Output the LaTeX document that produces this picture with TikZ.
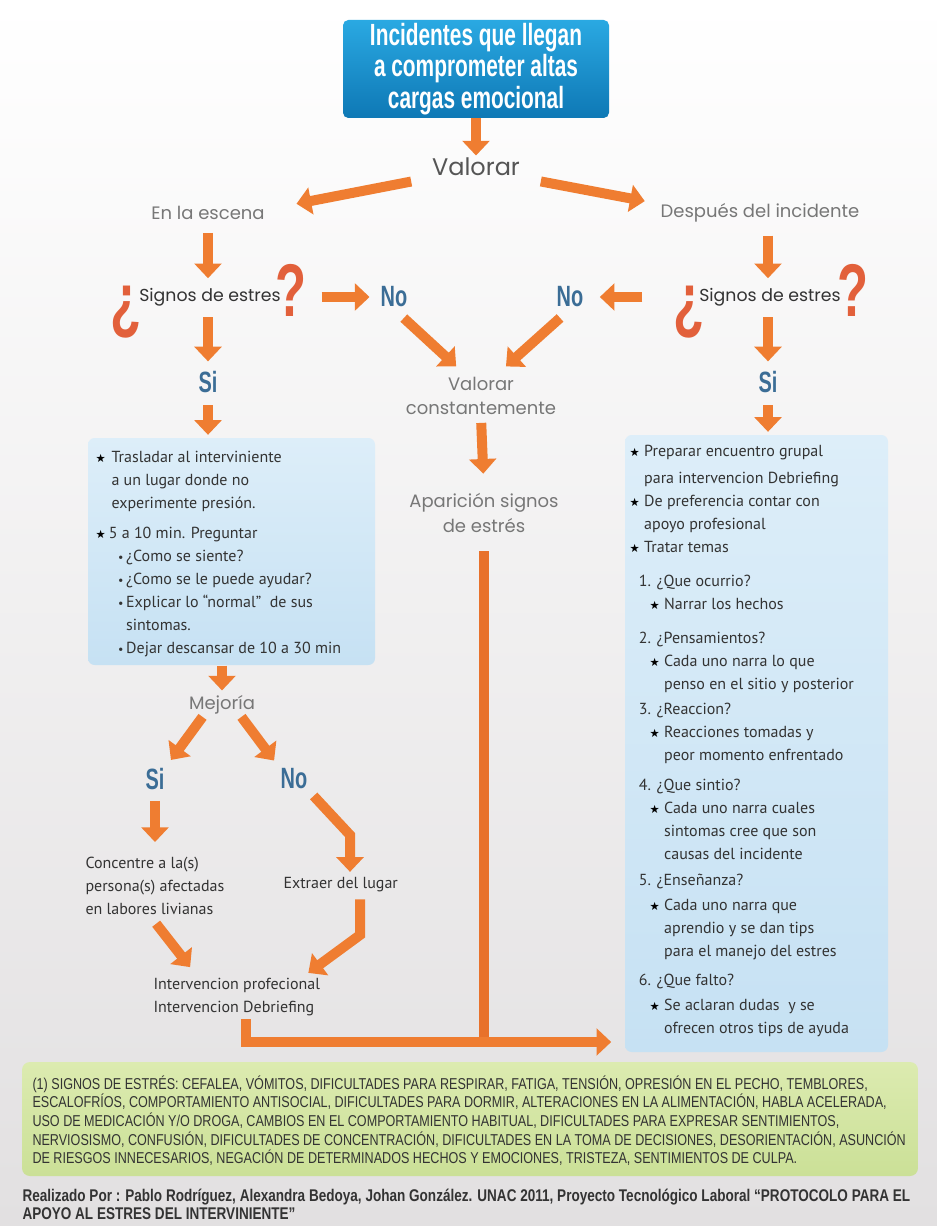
\documentclass[tikz,border=0pt]{standalone}
\usepackage{fontspec}
\setmainfont{PT Sans}
\newfontfamily\titlefont[FakeStretch=0.68]{Liberation Sans}
\newfontfamily\notafont[FakeStretch=0.8]{Liberation Sans}
\newfontfamily\grisfont{Poppins}
\newfontfamily\symfont{DejaVu Sans}
\usetikzlibrary{arrows.meta,positioning,calc}

\definecolor{naranja}{HTML}{EF7D31}
\definecolor{naranjaosc}{HTML}{E8712B}
\definecolor{azulsi}{HTML}{3B6D96}
\definecolor{azultop}{HTML}{2AA9E2}
\definecolor{azulbot}{HTML}{0E78B5}
\definecolor{celeste1}{HTML}{DDEEF9}
\definecolor{celeste2}{HTML}{C6E1F3}
\definecolor{verde1}{HTML}{DCEBB0}
\definecolor{verde2}{HTML}{CBE097}
\definecolor{grisclaro}{HTML}{777777}
\definecolor{grisvalorar}{HTML}{555555}
\definecolor{grisosc}{HTML}{333333}
\definecolor{rojizo}{HTML}{E2603B}
\definecolor{fondo}{HTML}{E2E0E1}

\newcommand{\est}[1]{\makebox[#1][l]{\symfont\fontsize{8.5}{8.5}\selectfont\color{black}★}}
\newcommand{\punto}{\makebox[6pt][l]{\fontsize{9}{9}\selectfont •}}

\tikzset{every picture/.style={line width=0.75pt}}
\tikzset{
  flecha/.style={draw=naranja, line width=7.5pt, -{Triangle[width=20pt,length=11pt]}},
  barra/.style={draw=naranjaosc, line width=7.5pt},
  gris/.style={inner sep=1.5pt, text=grisclaro, align=center, font=\grisfont\fontsize{13.5}{18.5}\selectfont},
  signos/.style={inner sep=1pt, text=grisosc, font=\grisfont\fontsize{13}{16}\selectfont},
  sino/.style={inner sep=1pt, text=azulsi, font=\titlefont\bfseries\fontsize{22}{24}\selectfont},
  pregunta/.style={inner sep=0pt, text=rojizo, font=\titlefont\bfseries\fontsize{56}{56}\selectfont},
  cajatitulo/.style={rounded corners=4pt, top color=azultop, bottom color=azulbot, inner sep=0pt, text=white, align=center, font=\titlefont\bfseries\fontsize{23}{23.5}\selectfont},
  cajaazul/.style={rounded corners=5pt, top color=celeste1, bottom color=celeste2, inner sep=0pt},
  cajaverde/.style={rounded corners=6pt, top color=verde1, bottom color=verde2, inner sep=0pt},
  cuerpo/.style={anchor=north west, inner sep=0pt, align=left, text=grisosc, font=\fontsize{12}{17.25}\selectfont}
}

\begin{document}
\begin{tikzpicture}[x=0.75pt,y=0.75pt,yscale=-1,xscale=1]
%set diagram: 937 x 1226
\shade [top color=white, bottom color=fondo] (0,0) rectangle (937,1226);
\useasboundingbox (0,0) rectangle (937,1226);

%Shape: Rectangle
\draw (476,69) node (titulo) [cajatitulo, minimum width=199.5pt, minimum height=73.5pt] {Incidentes que llegan\\a comprometer altas\\cargas emocional};
%Shape: Rectangle
\draw (231.5,551.5) node (cajaI) [cajaazul, minimum width=215.25pt, minimum height=170.25pt] {};
%Shape: Rectangle
\draw (756.5,743.5) node (cajaD) [cajaazul, minimum width=197.25pt, minimum height=462.75pt] {};
%Shape: Rectangle
\draw (470,1119) node (cajaV) [cajaverde, minimum width=672pt, minimum height=85.5pt] {};

% Text Node
\draw (126,312) node (abreI) [pregunta] {¿};
\draw (291,290) node (cierraI) [pregunta] {?};
\draw (689,312) node (abreD) [pregunta] {¿};
\draw (853,290) node (cierraD) [pregunta] {?};
% Text Node
\draw (476,167) node (valorar) [gris, text=grisvalorar, font=\grisfont\fontsize{18}{20}\selectfont] {Valorar};
\draw (208,213) node (escena) [gris] {En la escena};
\draw (760,213) node (despues) [gris] {Después del incidente};
\draw (210,297) node (signosI) [signos] {Signos de estres};
\draw (770,297) node (signosD) [signos] {Signos de estres};
\draw (394,297) node (noI) [sino] {No};
\draw (570,297) node (noD) [sino] {No};
\draw (208,382) node (siI) [sino] {Si};
\draw (768,382) node (siD) [sino] {Si};
\draw (481,396) node (constante) [gris] {Valorar\\constantemente};
\draw (484,513) node (aparicion) [gris] {Aparición signos\\de estrés};
\draw (222,705) node (mejoria) [gris] {Mejoría};
\draw (155,779) node (siM) [sino] {Si};
\draw (294,779) node (noM) [sino] {No};
% Text Node
\draw (85,886) node (concentre) [cuerpo, anchor=west] {Concentre a la(s)\\persona(s) afectadas\\en labores livianas};
\draw (283,885) node (extraer) [cuerpo, anchor=west] {Extraer del lugar};
\draw (153,997) node (interv) [cuerpo, anchor=west] {Intervencion profecional\\Intervencion Debriefing};

% Text Node
\draw (95,451) node (listaI) [cuerpo] {\est{12pt}Trasladar al interviniente\\
\hspace*{12pt}a un lugar donde no\\
\hspace*{12pt}experimente presión.\\[5pt]
\est{10pt}5 a 10 min. Preguntar\\
\hspace*{17pt}\punto¿Como se siente?\\
\hspace*{17pt}\punto¿Como se le puede ayudar?\\
\hspace*{17pt}\punto Explicar lo “normal”\ \ de sus\\
\hspace*{23pt}sintomas.\\
\hspace*{17pt}\punto Dejar descansar de 10 a 30 min};
% Text Node
\draw (629,445) node (listaD) [cuerpo] {\est{11pt}Preparar encuentro grupal\\[3pt]
\hspace*{11pt}para intervencion Debriefing\\
\est{11pt}De preferencia contar con\\
\hspace*{11pt}apoyo profesional\\
\est{11pt}Tratar temas\\[8pt]
\hspace*{7pt}1. ¿Que ocurrio?\\
\hspace*{15pt}\est{11pt}Narrar los hechos\\[8pt]
\hspace*{7pt}2. ¿Pensamientos?\\
\hspace*{15pt}\est{11pt}Cada uno narra lo que\\
\hspace*{26pt}penso en el sitio y posterior\\[2pt]
\hspace*{7pt}3. ¿Reaccion?\\
\hspace*{15pt}\est{11pt}Reacciones tomadas y\\
\hspace*{26pt}peor momento enfrentado\\[5pt]
\hspace*{7pt}4. ¿Que sintio?\\
\hspace*{15pt}\est{11pt}Cada uno narra cuales\\
\hspace*{26pt}sintomas cree que son\\
\hspace*{26pt}causas del incidente\\[2pt]
\hspace*{7pt}5. ¿Enseñanza?\\[2pt]
\hspace*{15pt}\est{11pt}Cada uno narra que\\
\hspace*{26pt}aprendio y se dan tips\\
\hspace*{26pt}para el manejo del estres\\[4pt]
\hspace*{7pt}6. ¿Que falto?\\[2pt]
\hspace*{15pt}\est{11pt}Se aclaran dudas\ \ y se\\
\hspace*{26pt}ofrecen otros tips de ayuda};
% Text Node
\draw (32,1075) node (listaSignos) [anchor=north west, inner sep=0pt, align=left, text=grisosc, font=\notafont\fontsize{11.8}{14}\selectfont] {(1) SIGNOS DE ESTRÉS: CEFALEA, VÓMITOS, DIFICULTADES PARA RESPIRAR, FATIGA, TENSIÓN, OPRESIÓN EN EL PECHO, TEMBLORES,\\
ESCALOFRÍOS, COMPORTAMIENTO ANTISOCIAL, DIFICULTADES PARA DORMIR, ALTERACIONES EN LA ALIMENTACIÓN, HABLA ACELERADA,\\
USO DE MEDICACIÓN Y/O DROGA, CAMBIOS EN EL COMPORTAMIENTO HABITUAL, DIFICULTADES PARA EXPRESAR SENTIMIENTOS,\\
NERVIOSISMO, CONFUSIÓN, DIFICULTADES DE CONCENTRACIÓN, DIFICULTADES EN LA TOMA DE DECISIONES, DESORIENTACIÓN, ASUNCIÓN\\
DE RIESGOS INNECESARIOS, NEGACIÓN DE DETERMINADOS HECHOS Y EMOCIONES, TRISTEZA, SENTIMIENTOS DE CULPA.};
% Text Node
\draw (22,1189) node (pie) [anchor=north west, inner sep=0pt, align=left, text=grisosc, font=\notafont\bfseries\fontsize{12.7}{13.5}\selectfont] {Realizado Por : Pablo Rodríguez, Alexandra Bedoya, Johan González. UNAC 2011, Proyecto Tecnológico Laboral “PROTOCOLO PARA EL\\
APOYO AL ESTRES DEL INTERVINIENTE”};

%Straight Lines
\draw [flecha] (titulo.south) -- (valorar.north);
\draw [flecha, shorten <=12pt] ([xshift=-2pt]valorar.south west) -- ([xshift=22pt]escena.north east);
\draw [flecha, shorten <=12pt] ([xshift=2pt]valorar.south east) -- ([xshift=-10pt]despues.north west);
\draw [flecha, shorten <=8pt, shorten >=6pt] (siI.north |- escena.south) -- (siI.north |- signosI.north);
\draw [flecha, shorten <=8pt, shorten >=6pt] (siD.north |- despues.south) -- (siD.north |- signosD.north);
\draw [flecha, shorten <=11pt, shorten >=7pt] (cierraI.east |- signosI) -- (noI.west);
\draw [flecha, shorten <=23pt, shorten >=11pt] (abreD.west |- signosD) -- (noD.east);
\draw [flecha, shorten <=10pt, shorten >=9pt] (noI.south) -- ([xshift=-12pt]constante.north);
\draw [flecha, shorten <=10pt, shorten >=9pt] (noD.south) -- ([xshift=12pt]constante.north);
\draw [flecha, shorten <=4pt, shorten >=13pt] (constante.south) -- (aparicion.north);
\draw [flecha, shorten <=7pt, shorten >=6pt] (siI.north |- signosI.south) -- (siI.north);
\draw [flecha, shorten <=7pt, shorten >=6pt] (siD.north |- signosD.south) -- (siD.north);
\draw [flecha, shorten <=8pt, shorten >=2pt] (siI.south) -- (siI.south |- cajaI.north);
\draw [flecha, shorten <=8pt, shorten >=2pt] (siD.south) -- (siD.south |- cajaD.north);
\draw [flecha, shorten >=2pt] (mejoria.north |- cajaI.south) -- (mejoria.north);
\draw [flecha, shorten >=6pt] ([xshift=12pt]mejoria.south west) -- (siM.north east);
\draw [flecha, shorten >=6pt] ([xshift=-12pt]mejoria.south east) -- (noM.north west);
\draw [flecha, shorten <=7pt, shorten >=11pt] (siM.south) -- (siM.south |- concentre.north);
\coordinate (codoA) at (350,835);
\draw [flecha, shorten <=5pt, shorten >=4pt] (noM.south east) -- (codoA) -- (codoA |- extraer.north);
\coordinate (codoB) at (360,935);
\draw [flecha, shorten <=5pt, shorten >=6pt] (codoB |- extraer.south) -- (codoB) -- ([xshift=-14pt]interv.north east);
\draw [flecha, shorten <=8pt, shorten >=10pt] ([xshift=-4pt]concentre.south) -- ([xshift=34pt]interv.north west);
\coordinate (union) at (482,1042);
\draw [barra] ([yshift=12pt]aparicion.south) -- (aparicion.south |- union);
\draw [flecha, shorten <=2pt] ([xshift=7pt]interv.south) |- ([xshift=-10pt]cajaD.west |- union);

\end{tikzpicture}
\end{document}
